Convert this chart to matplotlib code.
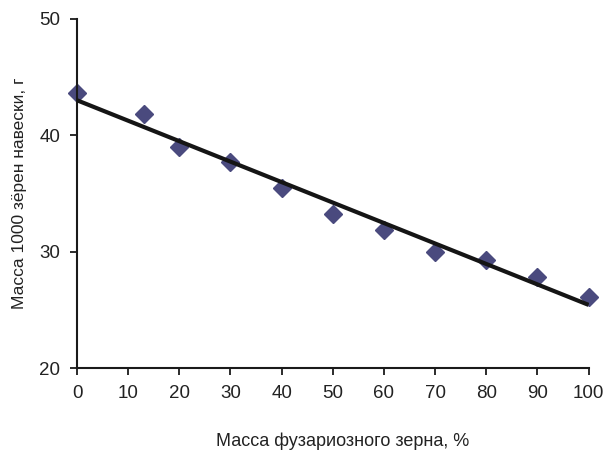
import numpy as np
import matplotlib.pyplot as plt

# доля фузариозного зерна, % и масса 1000 зёрен, г
fusarium_pct = [0, 13, 20, 30, 40, 50, 60, 70, 80, 90, 100]
mass_1000 = [43.6, 41.8, 39.0, 37.7, 35.5, 33.2, 31.9, 30.0, 29.3, 27.8, 26.1]
x_ticks = [0, 10, 20, 30, 40, 50, 60, 70, 80, 90, 100]
y_ticks = [20, 30, 40, 50]


def main():
    plt.rcParams['font.family'] = ['Liberation Sans', 'DejaVu Sans']
    fig = plt.figure(figsize=(6.04, 4.5), dpi=100)
    ax = fig.add_axes([0.1275, 0.182, 0.847, 0.776])

    # линейный тренд
    k, b = np.polyfit(fusarium_pct, mass_1000, 1)
    xs = np.array([0, 100])
    ax.plot(xs, k * xs + b, color='#151515', lw=3, solid_capstyle='butt', zorder=3)

    ax.plot(fusarium_pct, mass_1000, linestyle='none', marker='D', markersize=9.5,
            color='#4a4a7e', markeredgecolor='#4a4a7e', zorder=2, clip_on=False)

    ax.set_xlim(0, 100)
    ax.set_ylim(20, 50)
    ax.set_xticks(x_ticks)
    ax.set_yticks(y_ticks)
    for s in ['top', 'right']:
        ax.spines[s].set_visible(False)
    for s in ['left', 'bottom']:
        ax.spines[s].set_linewidth(1.5)
        ax.spines[s].set_color('#1a1a1a')
    ax.tick_params(direction='out', length=5, width=1.3, color='#1a1a1a',
                   labelsize=13.5, labelcolor='#222222', pad=7)

    ax.set_xlabel('Масса фузариозного зерна, %', fontsize=13, color='#222222', labelpad=22)
    ax.xaxis.label.set_x(0.52)
    ax.set_ylabel('Масса 1000 зёрен навески, г', fontsize=12.5, color='#222222', labelpad=9)

    fig.savefig('out.png', dpi=100)


if __name__ == "__main__":
    main()
